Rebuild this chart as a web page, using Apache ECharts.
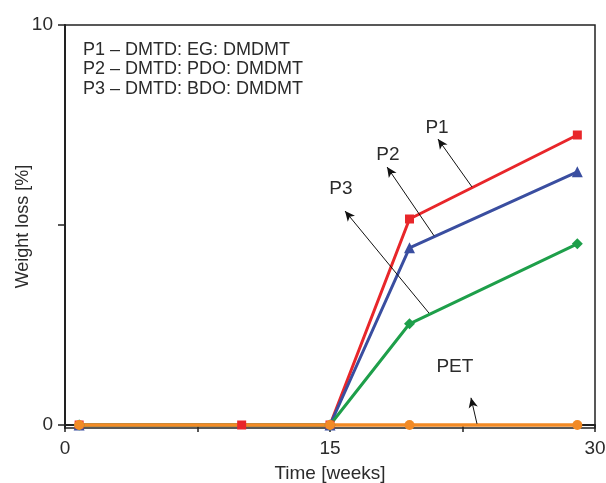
<!DOCTYPE html>
<html>
<head>
<meta charset="utf-8">
<script src="https://cdn.jsdelivr.net/npm/echarts@6/dist/echarts.min.js"></script>
<style>
  html, body { margin: 0; padding: 0; background: #fff; }
  #chart { width: 606px; height: 483px; }
</style>
</head>
<body>
<div id="chart"></div>
<script>
// weeks / weight loss (%)
var p1 = [[0.8, 0], [10, 0], [15, 0], [19.5, 5.15], [29, 7.25]];
var p2 = [[0.8, 0], [15, 0], [19.5, 4.43], [29, 6.33]];
var p3 = [[0.8, 0], [15, 0], [19.5, 2.53], [29, 4.53]];
var pet = [[0.8, 0], [15, 0], [19.5, 0], [29, 0]];

var xLabels = [0, 15, 30];
var yLabels = [0, 10];
var yTicks = [0, 5, 10];

// arrow annotations: [label, tail, head, labelPos] in data coords
var notes = [
  ['P1', [23.04, 5.95], [21.11, 7.15], [21.06, 7.43]],
  ['P2', [20.89, 4.73], [18.23, 6.45], [18.28, 6.75]],
  ['P3', [20.6, 2.8], [15.85, 5.35], [15.62, 5.9]],
  ['PET', [23.32, 0.03], [22.98, 0.68], [22.07, 1.45]]
];

var legendLines = [
  'P1 \u2013 DMTD: EG: DMDMT',
  'P2 \u2013 DMTD: PDO: DMDMT',
  'P3 \u2013 DMTD: BDO: DMDMT'
];

var txt = '#2b2b2b';
var font = 'Liberation Sans';

var myChart = echarts.init(document.getElementById('chart'));

function lineSeries(name, data, color, symbol, size) {
  return {
    name: name, type: 'line', data: data,
    symbol: symbol, symbolSize: size,
    lineStyle: { color: color, width: 3 },
    itemStyle: { color: color },
    animation: false
  };
}

var series = [
  lineSeries('P1', p1, '#e8262a', 'rect', 9),
  lineSeries('P2', p2, '#3a4ea0', 'triangle', 11),
  lineSeries('P3', p3, '#1e9f4a', 'diamond', 11),
  lineSeries('PET', pet, '#f28a25', 'circle', 10)
];
series[3].lineStyle.width = 3.5;

// arrows + their labels
series.push({
  type: 'line', data: [], silent: true, animation: false,
  markLine: {
    silent: true, animation: false,
    symbol: ['none', 'arrow'], symbolSize: [7, 10],
    lineStyle: { color: '#111', width: 1, type: 'solid' },
    label: { show: false },
    data: notes.map(function (n) {
      return [{ coord: n[1] }, { coord: n[2] }];
    })
  },
  markPoint: {
    silent: true, animation: false,
    symbol: 'circle', symbolSize: 1,
    itemStyle: { color: 'rgba(0,0,0,0)' },
    label: {
      show: true, position: 'inside', color: txt,
      fontFamily: font, fontSize: 19,
      formatter: function (p) { return p.name; }
    },
    data: notes.map(function (n) {
      return { name: n[0], coord: n[3] };
    })
  }
});

var option = {
  backgroundColor: '#fff',
  textStyle: { fontFamily: font },
  grid: {
    left: 65, right: 11, top: 25, bottom: 55,
    outerBoundsMode: 'none', containLabel: false,
    show: true, borderColor: '#222', borderWidth: 1.5
  },
  xAxis: {
    type: 'value', min: 0, max: 30, interval: 7.5,
    name: 'Time [weeks]', nameLocation: 'middle', nameGap: 36,
    nameMoveOverlap: false,
    nameTextStyle: { color: txt, fontSize: 19, fontFamily: font },
    axisLine: { lineStyle: { color: '#222', width: 2 } },
    axisTick: { length: 7, lineStyle: { color: '#222', width: 1.5 } },
    axisLabel: {
      color: txt, fontSize: 19, fontFamily: font, margin: 11,
      customValues: xLabels
    },
    splitLine: { show: false }
  },
  yAxis: {
    type: 'value', min: -0.075, max: 10,
    name: 'Weight loss [%]', nameLocation: 'middle', nameGap: 33,
    nameMoveOverlap: false,
    nameTextStyle: { color: txt, fontSize: 18, fontFamily: font },
    axisLine: { lineStyle: { color: '#222', width: 2 } },
    axisTick: { length: 7, customValues: yTicks, lineStyle: { color: '#222', width: 1.5 } },
    axisLabel: {
      color: txt, fontSize: 19, fontFamily: font, margin: 12,
      customValues: yLabels
    },
    splitLine: { show: false }
  },
  graphic: legendLines.map(function (s, i) {
    return {
      type: 'text', left: 83, top: 41 + i * 19.5,
      style: { text: s, fill: txt, font: '18px "Liberation Sans"' }
    };
  }),
  series: series
};

myChart.setOption(option);
</script>
</body>
</html>
